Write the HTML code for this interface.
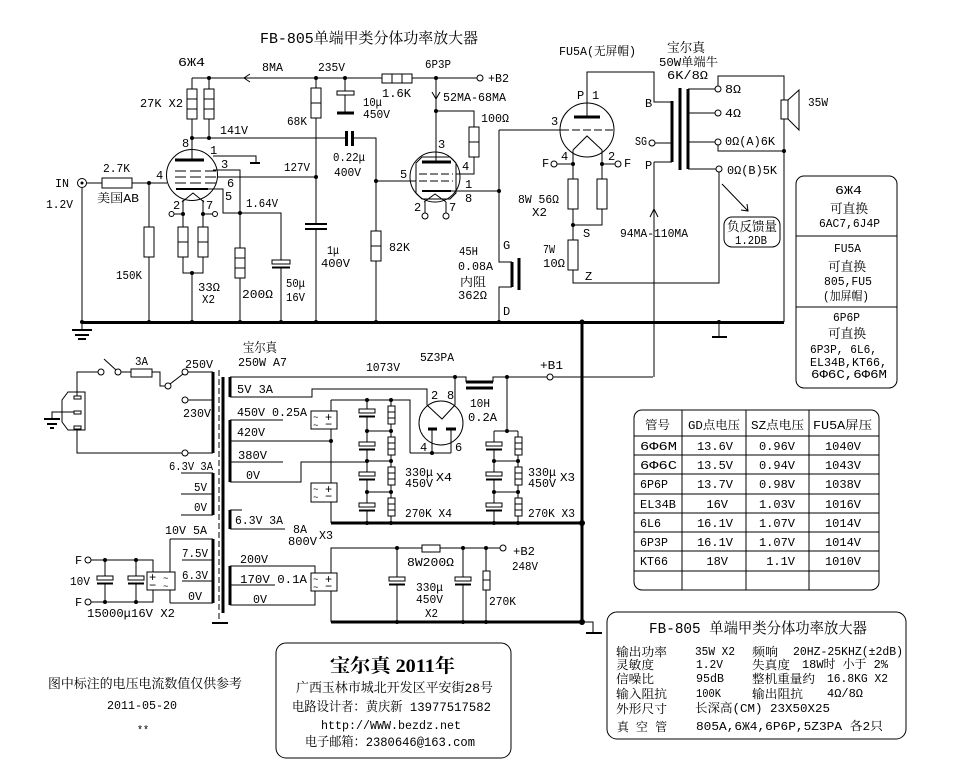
<!DOCTYPE html>
<html><head><meta charset="utf-8">
<style>
html,body{margin:0;padding:0;background:#fff;}
svg{display:block;}
text{font-family:"Liberation Mono","Noto Serif CJK SC",monospace;font-size:12px;fill:#000;stroke:none;}
.s{font-family:"Liberation Serif","Noto Serif CJK SC",serif;}
</style></head><body>
<svg width="966" height="775" viewBox="0 0 966 775" xmlns="http://www.w3.org/2000/svg">
<rect width="966" height="775" fill="#fff"/>
<g fill="none" stroke="#000" stroke-width="1">
<!-- ===== Tube 1 section ===== -->
<path d="M192 78H382M412 78H477"/>
<path d="M250 74L244 78L250 82"/>
<path d="M192 78V89M192 119V160M209 78V89M209 119V138"/>
<rect x="187" y="89" width="10" height="30"/><path d="M187 99H197M187 109H197"/>
<rect x="204" y="89" width="10" height="30"/><path d="M204 99H214M204 109H214"/>
<path d="M192 138H346"/>
<path d="M346.5 131V146M352.5 131V146" stroke-width="3"/>
<path d="M353 138H376V231M376 261V322"/>
<rect x="371" y="231" width="10" height="30"/><path d="M371 246H381"/>
<path d="M316 78V88M316 118V224M316 229V322"/>
<rect x="311" y="88" width="10" height="30"/><path d="M311 103H321"/>
<path d="M305 224H327M305 229H327" stroke-width="2"/>
<circle cx="192" cy="175" r="25.5"/>
<path d="M175 160H204" stroke-width="3"/>
<path d="M175 171H217M175 177H217M175 183H216" stroke-dasharray="11,4"/>
<path d="M176 189H208" stroke-width="2"/>
<path d="M213 156H256V163"/><path d="M250 163H260" stroke-width="2"/>
<path d="M213 170H240V248M240 278V322"/>
<rect x="235" y="248" width="10" height="30"/><path d="M235 258H245M235 268H245"/>
<path d="M217 177H316"/>
<path d="M208 189H223V213H281V260M281 267V322"/>
<rect x="272" y="260" width="18" height="4"/><path d="M272 267.5H290" stroke-width="2"/>
<path d="M182 202L193 193L204 202"/>
<path d="M183 200V227M203 200V227M174 214H183M203 214H212"/>
<circle cx="171.5" cy="214" r="2.5"/><circle cx="215" cy="214" r="2.5"/>
<rect x="178" y="227" width="10" height="30"/><path d="M178 242H188"/>
<rect x="198" y="227" width="10" height="30"/><path d="M198 242H208"/>
<path d="M183 257V273H203V257M192 273V322"/>
<circle cx="82" cy="183" r="4.5"/>
<path d="M87 183H102M132 183H167M149 183V227M149 257V322M82 188V330"/>
<rect x="102" y="178" width="30" height="10"/>
<rect x="144" y="227" width="10" height="30"/>
<path d="M72 330H92M75 335H89M78 339H86" stroke-width="2"/>
<path d="M82 322.5H784" stroke-width="3"/>
<!-- ===== Tube 2 section ===== -->
<path d="M345 78V91M345 95V113"/>
<rect x="337" y="91" width="17" height="4"/>
<path d="M337 113H354" stroke-width="3"/>
<rect x="382" y="74" width="30" height="9"/><path d="M392 74V83M402 74V83"/>
<circle cx="480" cy="78" r="3"/>
<path d="M436 78V162M436 111H474V127M474 157V174H456"/>
<path d="M432 92L436 99L440 92"/>
<rect x="469" y="127" width="10" height="30"/><path d="M469 142H479"/>
<circle cx="435" cy="177" r="25"/>
<path d="M422 157H450L456 163V193L450 199H422L416 193V163Z"/>
<path d="M422 162H451" stroke-width="3"/>
<path d="M419 174H453M419 181H453" stroke-dasharray="8,3"/>
<path d="M422 191H451" stroke-width="2"/>
<path d="M451 191H499"/>
<path d="M376 181H416"/>
<path d="M424 202L435 194L446 202M425 202V213M446 202V213"/>
<circle cx="425" cy="216" r="3"/><circle cx="446" cy="216" r="3"/>
<path d="M499 130V262H512M512 287H499V322M499 130H561"/>
<path d="M512 262V287M519 258V290" stroke-width="3"/>
<!-- ===== FU5A ===== -->
<circle cx="587" cy="130" r="27"/>
<path d="M587 117V72H654V102H672"/>
<path d="M574 117H600" stroke-width="3"/>
<path d="M561 130H613" stroke-dasharray="8,3"/>
<path d="M573 150L587 136L602 150M573 150V179M602 150V179M557 164H573M602 164H615"/>
<circle cx="554" cy="164" r="3"/><circle cx="618" cy="164" r="3"/>
<rect x="568" y="179" width="10" height="30"/><rect x="597" y="179" width="10" height="30"/>
<path d="M573 209V240M602 209V225H573"/>
<rect x="568" y="240" width="10" height="30"/>
<path d="M573 270V283H719V172"/>
<!-- ===== Output transformer ===== -->
<path d="M672 101V162M680 88V170M688 89V169" stroke-width="3"/>
<circle cx="652" cy="143" r="3"/>
<path d="M655 143H672M654 162H672M654 162V377"/>
<path d="M650 217L654 209L658 217"/>
<path d="M688 89H715M688 113H715M688 142H715M688 169H716"/>
<circle cx="718" cy="89" r="3"/><circle cx="718" cy="113" r="3"/><circle cx="718" cy="142" r="3"/><circle cx="719" cy="169" r="3"/>
<path d="M718 86V76H784V100M784 119V322M718 145V151H784"/>
<rect x="781" y="100" width="7" height="19"/>
<path d="M788 100L799 90V130L788 119"/>
<path d="M722 184L748 211M741 210L748 211L747 204"/>
<rect x="724" y="217" width="56" height="30" rx="8"/>
<path d="M719 322V337"/><path d="M712 337H727" stroke-width="2"/>
<rect x="796" y="176" width="101" height="212" rx="8"/>
<path d="M796 236H897M796 307H897"/>
<!-- ===== Power section ===== -->
<path d="M68 392H85V430H68L62 422V400Z"/>
<rect x="74" y="396" width="7" height="3"/><rect x="74" y="411" width="7" height="3"/><rect x="74" y="426" width="7" height="3"/>
<path d="M77 396V372H98M121 372H131M152 372H160V386H165M77 429V453H182M74 412H52V419"/>
<path d="M44 419H60M47 424H57M50 428H54" stroke-width="2"/>
<circle cx="101" cy="372" r="3"/><circle cx="118" cy="372" r="3"/><circle cx="168" cy="386" r="3"/>
<circle cx="185" cy="372" r="3"/><circle cx="185" cy="400" r="3"/><circle cx="185" cy="453" r="3"/>
<path d="M104 359L116 370M170 384L183 374"/>
<rect x="131" y="369" width="21" height="8"/>
<path d="M188 372H213M188 400H213M188 453H213"/>
<path d="M213 372V453" stroke-width="3"/>
<path d="M219 370V623" stroke-dasharray="6,3"/>
<path d="M223 377V613" stroke-width="3"/>
<path d="M212 623H228" stroke-width="2"/>
<path d="M213 473V515M213 539V603" stroke-width="3"/>
<path d="M181 473H213M181 494H213M181 515H213M170 539H213M182 560H213M182 581H213M170 603H213M170 539V572M170 590V603"/>
<rect x="147" y="572" width="28" height="18"/>
<path d="M153 572V560H91M153 590V602H91"/>
<circle cx="88" cy="560" r="3"/><circle cx="88" cy="602" r="3"/>
<path d="M105 560V576M105 583V602M136 560V576M136 583V602"/>
<rect x="97" y="576" width="16" height="4"/><rect x="128" y="576" width="16" height="4"/>
<path d="M97 583.5H113M128 583.5H144" stroke-width="2"/>
<path d="M230 377V397M230 420V482M230 510V529M230 566V605" stroke-width="3"/>
<path d="M230 377H466V382M493 382V377H653"/>
<path d="M466 382H493M466 388H493" stroke-width="3"/>
<path d="M230 397H312V389H427V405M455 377V405"/>
<path d="M427 405L442 419L455 405"/>
<circle cx="441" cy="423" r="22"/>
<path d="M428 429H437M446 429H456" stroke-width="3"/>
<path d="M432 429V453M451 429V453M410 453H451M331 400H410V453"/>
<path d="M230 420H283M230 441H331M230 462H283M230 482H301V462H367M230 510H242M230 529H285"/>
<path d="M331 400V411M331 429V483M331 502V523"/>
<rect x="311" y="411" width="26" height="18"/>
<rect x="311" y="483" width="26" height="19"/>
<path d="M230 566H315V573M230 585H275M230 605H315V591M331 573V548H422M440 548H500M331 591V622"/>
<rect x="311" y="573" width="26" height="18"/>
<rect x="422" y="545" width="18" height="7"/>
<circle cx="503" cy="548" r="3"/>
<path d="M397 548V577M397 585V622M463 548V577M463 585V622M486 548V571M486 590V622"/>
<rect x="389" y="577" width="16" height="4"/><rect x="455" y="577" width="16" height="4"/>
<path d="M389 584.5H405M455 584.5H471" stroke-width="2"/>
<rect x="483" y="571" width="7" height="19"/><path d="M483 580H490"/>
<path d="M331 523H582M331 622H582" stroke-width="3"/>
<path d="M582 322V622" stroke-width="3"/>
<path d="M582 622H593V633"/><path d="M586 633H602" stroke-width="2"/>
<!-- left stack -->
<path d="M367 400V409M367 416V442M367 449V472M367 479V503M367 510V523"/>
<rect x="359" y="409" width="16" height="4"/><rect x="359" y="442" width="16" height="4"/><rect x="359" y="472" width="16" height="4"/><rect x="359" y="503" width="16" height="4"/>
<path d="M359 416.5H375M359 449.5H375M359 479.5H375M359 510.5H375" stroke-width="2"/>
<path d="M391 400V406M391 424V437M391 455V467M391 485V498M391 516V523"/>
<rect x="388" y="406" width="7" height="18"/><rect x="388" y="437" width="7" height="18"/><rect x="388" y="467" width="7" height="18"/><rect x="388" y="498" width="7" height="18"/>
<path d="M388 412H395M388 418H395M388 443H395M388 449H395M388 473H395M388 479H395M388 504H395M388 510H395"/>
<path d="M367 431H391M367 461H391M367 492H391"/>
<!-- right stack -->
<path d="M507 377V431M494 431H518"/>
<path d="M494 431V442M494 449V472M494 479V503M494 510V523"/>
<rect x="486" y="442" width="16" height="4"/><rect x="486" y="472" width="16" height="4"/><rect x="486" y="503" width="16" height="4"/>
<path d="M486 449.5H502M486 479.5H502M486 510.5H502" stroke-width="2"/>
<path d="M518 431V437M518 455V467M518 485V498M518 516V523"/>
<rect x="515" y="437" width="7" height="18"/><rect x="515" y="467" width="7" height="18"/><rect x="515" y="498" width="7" height="18"/>
<path d="M515 443H522M515 449H522M515 473H522M515 479H522M515 504H522M515 510H522"/>
<path d="M494 461H518M494 492H518"/>
<!-- table -->
<rect x="634" y="410" width="245" height="180" rx="8"/>
<path d="M682 410V590M746 410V590M809 410V590M634 436H879M634 455H879M634 474H879M634 494H879M634 513H879M634 532H879M634 551H879M634 571H879"/>
<!-- boxes -->
<rect x="276" y="643" width="235" height="115" rx="10"/>
<rect x="607" y="612" width="299" height="127" rx="10"/>
</g>
<circle cx="550" cy="377" r="3" fill="#fff" stroke="#000"/>
<g fill="#000">
<circle cx="82" cy="183" r="1.5"/>
<circle cx="209" cy="78" r="2"/><circle cx="316" cy="78" r="2"/><circle cx="345" cy="78" r="2"/><circle cx="436" cy="78" r="2"/>
<circle cx="192" cy="138" r="2"/><circle cx="209" cy="138" r="2"/><circle cx="149" cy="183" r="2"/><circle cx="316" cy="177" r="2"/>
<circle cx="240" cy="213" r="2"/><circle cx="183" cy="214" r="2"/><circle cx="203" cy="214" r="2"/><circle cx="192" cy="273" r="2"/>
<circle cx="436" cy="111" r="2"/><circle cx="376" cy="181" r="2"/><circle cx="499" cy="191" r="2"/>
<circle cx="573" cy="164" r="2"/><circle cx="602" cy="164" r="2"/><circle cx="573" cy="225" r="2"/><circle cx="784" cy="151" r="2"/>
<circle cx="82" cy="322" r="2"/><circle cx="149" cy="322" r="2"/><circle cx="192" cy="322" r="2"/><circle cx="240" cy="322" r="2"/><circle cx="281" cy="322" r="2"/><circle cx="316" cy="322" r="2"/><circle cx="376" cy="322" r="2"/><circle cx="499" cy="322" r="2"/><circle cx="582" cy="322" r="2.5"/><circle cx="719" cy="322" r="2"/>
<circle cx="105" cy="560" r="2"/><circle cx="136" cy="560" r="2"/><circle cx="105" cy="602" r="2"/><circle cx="136" cy="602" r="2"/>
<circle cx="331" cy="441" r="2"/><circle cx="455" cy="377" r="2"/><circle cx="507" cy="377" r="2"/>
<circle cx="367" cy="400" r="2"/><circle cx="391" cy="400" r="2"/><circle cx="367" cy="431" r="2"/><circle cx="391" cy="431" r="2"/><circle cx="367" cy="461" r="2"/><circle cx="391" cy="461" r="2"/><circle cx="367" cy="492" r="2"/><circle cx="391" cy="492" r="2"/><circle cx="367" cy="523" r="2"/><circle cx="391" cy="523" r="2"/>
<circle cx="432" cy="453" r="2"/><circle cx="507" cy="431" r="2"/>
<circle cx="494" cy="461" r="2"/><circle cx="518" cy="461" r="2"/><circle cx="494" cy="492" r="2"/><circle cx="518" cy="492" r="2"/><circle cx="494" cy="523" r="2"/><circle cx="518" cy="523" r="2"/>
<circle cx="582" cy="523" r="3"/><circle cx="397" cy="548" r="2"/><circle cx="463" cy="548" r="2"/><circle cx="486" cy="548" r="2"/>
<circle cx="397" cy="622" r="2"/><circle cx="463" cy="622" r="2"/><circle cx="486" cy="622" r="2"/><circle cx="582" cy="622" r="3"/>
</g>
<!-- bridge symbols -->
<g font-size="9">
<text x="313" y="420" style="font-size:9px">~</text><text x="313" y="428" style="font-size:9px">~</text><text x="325" y="421">+</text><text x="325" y="428">−</text>
<text x="313" y="492" style="font-size:9px">~</text><text x="313" y="500" style="font-size:9px">~</text><text x="325" y="493">+</text><text x="325" y="500">−</text>
<text x="313" y="582" style="font-size:9px">~</text><text x="313" y="590" style="font-size:9px">~</text><text x="325" y="583">+</text><text x="325" y="590">−</text>
<text x="149" y="581">+</text><text x="149" y="589">−</text><text x="163" y="581" style="font-size:9px">~</text><text x="163" y="589" style="font-size:9px">~</text>
</g>
<!-- labels -->
<text x="260" y="43" style="font-size:15px" textLength="218" lengthAdjust="spacingAndGlyphs">FB-805单端甲类分体功率放大器</text>
<text x="178" y="66" textLength="27" lengthAdjust="spacingAndGlyphs">6Ж4</text>
<text x="262" y="71" textLength="21" lengthAdjust="spacingAndGlyphs">8MA</text>
<text x="318" y="71" textLength="27" lengthAdjust="spacingAndGlyphs">235V</text>
<text x="425" y="68" textLength="26" lengthAdjust="spacingAndGlyphs">6P3P</text>
<text x="488" y="82" textLength="21" lengthAdjust="spacingAndGlyphs">+B2</text>
<text x="363" y="106" textLength="19" lengthAdjust="spacingAndGlyphs">10μ</text>
<text x="363" y="118" textLength="27" lengthAdjust="spacingAndGlyphs">450V</text>
<text x="382" y="97" textLength="29" lengthAdjust="spacingAndGlyphs">1.6K</text>
<text x="443" y="101" textLength="63" lengthAdjust="spacingAndGlyphs">52MA-68MA</text>
<text x="481" y="122" textLength="28" lengthAdjust="spacingAndGlyphs">100Ω</text>
<text x="140" y="107" textLength="43" lengthAdjust="spacingAndGlyphs">27K X2</text>
<text x="220" y="134" textLength="28" lengthAdjust="spacingAndGlyphs">141V</text>
<text x="287" y="125" textLength="20" lengthAdjust="spacingAndGlyphs">68K</text>
<text x="333" y="161" textLength="32" lengthAdjust="spacingAndGlyphs">0.22μ</text>
<text x="334" y="176" textLength="27" lengthAdjust="spacingAndGlyphs">400V</text>
<text x="182" y="147">8</text><text x="210" y="154">1</text><text x="221" y="168">3</text>
<text x="284" y="171" textLength="26" lengthAdjust="spacingAndGlyphs">127V</text>
<text x="156" y="179">4</text><text x="227" y="187">6</text><text x="225" y="200">5</text>
<text x="173" y="209">2</text><text x="206" y="209">7</text>
<text x="246" y="207" textLength="32" lengthAdjust="spacingAndGlyphs">1.64V</text>
<text x="55" y="187" textLength="14" lengthAdjust="spacingAndGlyphs">IN</text>
<text x="46" y="208" textLength="27" lengthAdjust="spacingAndGlyphs">1.2V</text>
<text x="103" y="172" textLength="27" lengthAdjust="spacingAndGlyphs">2.7K</text>
<text x="97" y="202" textLength="42" lengthAdjust="spacingAndGlyphs">美国AB</text>
<text x="116" y="279" textLength="26" lengthAdjust="spacingAndGlyphs">150K</text>
<text x="198" y="291" textLength="22" lengthAdjust="spacingAndGlyphs">33Ω</text>
<text x="202" y="303" textLength="13" lengthAdjust="spacingAndGlyphs">X2</text>
<text x="242" y="298" textLength="31" lengthAdjust="spacingAndGlyphs">200Ω</text>
<text x="286" y="287" textLength="19" lengthAdjust="spacingAndGlyphs">50μ</text>
<text x="286" y="301" textLength="19" lengthAdjust="spacingAndGlyphs">16V</text>
<text x="327" y="254" textLength="12" lengthAdjust="spacingAndGlyphs">1μ</text>
<text x="321" y="267" textLength="29" lengthAdjust="spacingAndGlyphs">400V</text>
<text x="389" y="251" textLength="21" lengthAdjust="spacingAndGlyphs">82K</text>
<text x="438" y="148">3</text><text x="462" y="170">4</text><text x="400" y="178">5</text>
<text x="465" y="188">1</text><text x="465" y="202">8</text><text x="414" y="211">2</text><text x="449" y="211">7</text>
<text x="459" y="255" textLength="19" lengthAdjust="spacingAndGlyphs">45H</text>
<text x="458" y="270" textLength="35" lengthAdjust="spacingAndGlyphs">0.08A</text>
<text x="460" y="286" textLength="26" lengthAdjust="spacingAndGlyphs">内阻</text>
<text x="458" y="299" textLength="29" lengthAdjust="spacingAndGlyphs">362Ω</text>
<text x="503" y="249">G</text><text x="503" y="315">D</text>
<text x="559" y="55" textLength="77" lengthAdjust="spacingAndGlyphs">FU5A(无屏帽)</text>
<text x="577" y="99">P</text><text x="592" y="99">1</text><text x="551" y="125">3</text>
<text x="561" y="160">4</text><text x="608" y="160">2</text>
<text x="542" y="167">F</text><text x="624" y="167">F</text>
<text x="518" y="203" textLength="41" lengthAdjust="spacingAndGlyphs">8W 56Ω</text>
<text x="532" y="216" textLength="15" lengthAdjust="spacingAndGlyphs">X2</text>
<text x="583" y="237">S</text>
<text x="543" y="253" textLength="12" lengthAdjust="spacingAndGlyphs">7W</text>
<text x="543" y="267" textLength="22" lengthAdjust="spacingAndGlyphs">10Ω</text>
<text x="585" y="280">Z</text>
<text x="620" y="237" textLength="68" lengthAdjust="spacingAndGlyphs">94MA-110MA</text>
<text x="645" y="107">B</text>
<text x="635" y="145" textLength="12" lengthAdjust="spacingAndGlyphs">SG</text>
<text x="645" y="169">P</text>
<text x="667" y="52" style="font-size:13px" textLength="38" lengthAdjust="spacingAndGlyphs">宝尔真</text>
<text x="659" y="66" textLength="59" lengthAdjust="spacingAndGlyphs">50W单端牛</text>
<text x="667" y="79" textLength="41" lengthAdjust="spacingAndGlyphs">6K/8Ω</text>
<text x="725" y="93" textLength="16" lengthAdjust="spacingAndGlyphs">8Ω</text>
<text x="725" y="117" textLength="16" lengthAdjust="spacingAndGlyphs">4Ω</text>
<text x="725" y="145" textLength="50" lengthAdjust="spacingAndGlyphs">0Ω(A)6K</text>
<text x="727" y="174" textLength="50" lengthAdjust="spacingAndGlyphs">0Ω(B)5K</text>
<text x="808" y="106" textLength="20" lengthAdjust="spacingAndGlyphs">35W</text>
<text x="727" y="231" style="font-size:13px" textLength="50" lengthAdjust="spacingAndGlyphs">负反馈量</text>
<text x="735" y="244" textLength="32" lengthAdjust="spacingAndGlyphs">1.2DB</text>
<text x="835" y="194" textLength="27" lengthAdjust="spacingAndGlyphs">6Ж4</text>
<text x="830" y="213" style="font-size:13px" textLength="38" lengthAdjust="spacingAndGlyphs">可直换</text>
<text x="819" y="227" textLength="61" lengthAdjust="spacingAndGlyphs">6AC7,6J4P</text>
<text x="834" y="252" textLength="27" lengthAdjust="spacingAndGlyphs">FU5A</text>
<text x="828" y="271" style="font-size:13px" textLength="38" lengthAdjust="spacingAndGlyphs">可直换</text>
<text x="824" y="285" textLength="48" lengthAdjust="spacingAndGlyphs">805,FU5</text>
<text x="823" y="300" textLength="46" lengthAdjust="spacingAndGlyphs">(加屏帽)</text>
<text x="833" y="321" textLength="27" lengthAdjust="spacingAndGlyphs">6P6P</text>
<text x="828" y="338" style="font-size:13px" textLength="38" lengthAdjust="spacingAndGlyphs">可直换</text>
<text x="810" y="353" textLength="67" lengthAdjust="spacingAndGlyphs">6P3P, 6L6,</text>
<text x="810" y="366" textLength="77" lengthAdjust="spacingAndGlyphs">EL34B,KT66,</text>
<text x="811" y="378" textLength="76" lengthAdjust="spacingAndGlyphs">6Φ6C,6Φ6M</text>
<!-- power labels -->
<text x="135" y="365" textLength="13" lengthAdjust="spacingAndGlyphs">3A</text>
<text x="185" y="368" textLength="28" lengthAdjust="spacingAndGlyphs">250V</text>
<text x="243" y="352" style="font-size:13px" textLength="34" lengthAdjust="spacingAndGlyphs">宝尔真</text>
<text x="238" y="366" textLength="49" lengthAdjust="spacingAndGlyphs">250W A7</text>
<text x="183" y="417" textLength="28" lengthAdjust="spacingAndGlyphs">230V</text>
<text x="169" y="470" textLength="44" lengthAdjust="spacingAndGlyphs">6.3V 3A</text>
<text x="194" y="491" textLength="13" lengthAdjust="spacingAndGlyphs">5V</text>
<text x="194" y="511" textLength="13" lengthAdjust="spacingAndGlyphs">0V</text>
<text x="165" y="534" textLength="42" lengthAdjust="spacingAndGlyphs">10V 5A</text>
<text x="182" y="557" textLength="26" lengthAdjust="spacingAndGlyphs">7.5V</text>
<text x="182" y="579" textLength="26" lengthAdjust="spacingAndGlyphs">6.3V</text>
<text x="188" y="600" textLength="14" lengthAdjust="spacingAndGlyphs">0V</text>
<text x="75" y="564">F</text><text x="75" y="606">F</text>
<text x="70" y="585" textLength="20" lengthAdjust="spacingAndGlyphs">10V</text>
<text x="87" y="617" textLength="88" lengthAdjust="spacingAndGlyphs">15000μ16V X2</text>
<text x="237" y="393" textLength="36" lengthAdjust="spacingAndGlyphs">5V 3A</text>
<text x="237" y="416" textLength="70" lengthAdjust="spacingAndGlyphs">450V 0.25A</text>
<text x="237" y="436" textLength="28" lengthAdjust="spacingAndGlyphs">420V</text>
<text x="238" y="459" textLength="29" lengthAdjust="spacingAndGlyphs">380V</text>
<text x="246" y="479" textLength="14" lengthAdjust="spacingAndGlyphs">0V</text>
<text x="235" y="524" textLength="48" lengthAdjust="spacingAndGlyphs">6.3V 3A</text>
<text x="293" y="533" textLength="14" lengthAdjust="spacingAndGlyphs">8A</text>
<text x="288" y="545" textLength="29" lengthAdjust="spacingAndGlyphs">800V</text>
<text x="319" y="539" textLength="14" lengthAdjust="spacingAndGlyphs">X3</text>
<text x="240" y="563" textLength="28" lengthAdjust="spacingAndGlyphs">200V</text>
<text x="240" y="583" textLength="67" lengthAdjust="spacingAndGlyphs">170V 0.1A</text>
<text x="253" y="603" textLength="14" lengthAdjust="spacingAndGlyphs">0V</text>
<text x="366" y="371" textLength="34" lengthAdjust="spacingAndGlyphs">1073V</text>
<text x="420" y="361" textLength="34" lengthAdjust="spacingAndGlyphs">5Z3PA</text>
<text x="540" y="369" textLength="23" lengthAdjust="spacingAndGlyphs">+B1</text>
<text x="431" y="399">2</text><text x="447" y="399">8</text>
<text x="470" y="407" textLength="20" lengthAdjust="spacingAndGlyphs">10H</text>
<text x="468" y="421" textLength="29" lengthAdjust="spacingAndGlyphs">0.2A</text>
<text x="420" y="451">4</text><text x="455" y="451">6</text>
<text x="405" y="476" textLength="28" lengthAdjust="spacingAndGlyphs">330μ</text>
<text x="405" y="487" textLength="28" lengthAdjust="spacingAndGlyphs">450V</text>
<text x="436" y="481" textLength="16" lengthAdjust="spacingAndGlyphs">X4</text>
<text x="405" y="517" textLength="47" lengthAdjust="spacingAndGlyphs">270K X4</text>
<text x="528" y="476" textLength="28" lengthAdjust="spacingAndGlyphs">330μ</text>
<text x="528" y="487" textLength="28" lengthAdjust="spacingAndGlyphs">450V</text>
<text x="560" y="481" textLength="15" lengthAdjust="spacingAndGlyphs">X3</text>
<text x="528" y="517" textLength="47" lengthAdjust="spacingAndGlyphs">270K X3</text>
<text x="407" y="566" textLength="47" lengthAdjust="spacingAndGlyphs">8W200Ω</text>
<text x="416" y="591" textLength="27" lengthAdjust="spacingAndGlyphs">330μ</text>
<text x="416" y="603" textLength="27" lengthAdjust="spacingAndGlyphs">450V</text>
<text x="425" y="617" textLength="13" lengthAdjust="spacingAndGlyphs">X2</text>
<text x="489" y="605" textLength="27" lengthAdjust="spacingAndGlyphs">270K</text>
<text x="513" y="555" textLength="22" lengthAdjust="spacingAndGlyphs">+B2</text>
<text x="512" y="570" textLength="26" lengthAdjust="spacingAndGlyphs">248V</text>
<!-- table -->
<g style="font-size:13px">
<text x="645" y="429" textLength="25" lengthAdjust="spacingAndGlyphs">管号</text>
<text x="688" y="429" textLength="52" lengthAdjust="spacingAndGlyphs">GD点电压</text>
<text x="751" y="429" textLength="53" lengthAdjust="spacingAndGlyphs">SZ点电压</text>
<text x="813" y="429" textLength="59" lengthAdjust="spacingAndGlyphs">FU5A屏压</text>
</g>
<text x="640" y="450" textLength="37" lengthAdjust="spacingAndGlyphs">6Φ6M</text>
<text x="640" y="469" textLength="37" lengthAdjust="spacingAndGlyphs">6Φ6C</text>
<text x="640" y="488" textLength="28" lengthAdjust="spacingAndGlyphs">6P6P</text>
<text x="640" y="508" textLength="36" lengthAdjust="spacingAndGlyphs">EL34B</text>
<text x="640" y="527" textLength="21" lengthAdjust="spacingAndGlyphs">6L6</text>
<text x="640" y="546" textLength="28" lengthAdjust="spacingAndGlyphs">6P3P</text>
<text x="640" y="565" textLength="28" lengthAdjust="spacingAndGlyphs">KT66</text>
<g text-anchor="end">
<text x="733" y="450">13.6V</text><text x="733" y="469">13.5V</text><text x="733" y="488">13.7V</text><text x="728" y="508">16V</text><text x="733" y="527">16.1V</text><text x="733" y="546">16.1V</text><text x="728" y="565">18V</text>
<text x="795" y="450">0.96V</text><text x="795" y="469">0.94V</text><text x="795" y="488">0.98V</text><text x="795" y="508">1.03V</text><text x="795" y="527">1.07V</text><text x="795" y="546">1.07V</text><text x="795" y="565">1.1V</text>
</g>
<g text-anchor="middle">
<text x="843" y="450">1040V</text><text x="843" y="469">1043V</text><text x="843" y="488">1038V</text><text x="843" y="508">1016V</text><text x="843" y="527">1014V</text><text x="843" y="546">1014V</text><text x="843" y="565">1010V</text>
</g>
<!-- bottom notes -->
<text x="48" y="688" style="font-size:13px" textLength="194" lengthAdjust="spacingAndGlyphs">图中标注的电压电流数值仅供参考</text>
<text x="107" y="709" textLength="70" lengthAdjust="spacingAndGlyphs">2011-05-20</text>
<text x="137" y="734" textLength="12" lengthAdjust="spacingAndGlyphs">**</text>
<text class="s" x="330" y="672" style="font-size:19px;font-weight:bold" textLength="125" lengthAdjust="spacingAndGlyphs">宝尔真 2011年</text>
<text x="296" y="692" style="font-size:13px" textLength="197" lengthAdjust="spacingAndGlyphs">广西玉林市城北开发区平安街28号</text>
<text x="292" y="711" style="font-size:13px" textLength="199" lengthAdjust="spacingAndGlyphs">电路设计者：黄庆新 13977517582</text>
<text x="321" y="729" textLength="140" lengthAdjust="spacingAndGlyphs">http://WWW.bezdz.net</text>
<text x="305" y="746" style="font-size:13px" textLength="170" lengthAdjust="spacingAndGlyphs">电子邮箱：2380646@163.com</text>
<!-- spec box -->
<text x="649" y="633" style="font-size:15px" textLength="218" lengthAdjust="spacingAndGlyphs">FB-805 单端甲类分体功率放大器</text>
<g style="font-size:13px">
<text x="616" y="656" textLength="51" lengthAdjust="spacingAndGlyphs">输出功率</text>
<text x="616" y="669" textLength="38" lengthAdjust="spacingAndGlyphs">灵敏度</text>
<text x="616" y="683" textLength="38" lengthAdjust="spacingAndGlyphs">信噪比</text>
<text x="616" y="698" textLength="51" lengthAdjust="spacingAndGlyphs">输入阻抗</text>
<text x="616" y="713" textLength="51" lengthAdjust="spacingAndGlyphs">外形尺寸</text>
<text x="617" y="731" textLength="50" lengthAdjust="spacingAndGlyphs">真 空 管</text>
<text x="752" y="656" textLength="26" lengthAdjust="spacingAndGlyphs">频响</text>
<text x="752" y="669" textLength="38" lengthAdjust="spacingAndGlyphs">失真度</text>
<text x="752" y="683" textLength="63" lengthAdjust="spacingAndGlyphs">整机重量约</text>
<text x="752" y="698" textLength="51" lengthAdjust="spacingAndGlyphs">输出阻抗</text>
</g>
<text x="695" y="655" textLength="40" lengthAdjust="spacingAndGlyphs">35W X2</text>
<text x="793" y="655" textLength="110" lengthAdjust="spacingAndGlyphs">20HZ-25KHZ(±2dB)</text>
<text x="696" y="668" textLength="27" lengthAdjust="spacingAndGlyphs">1.2V</text>
<text x="802" y="668" textLength="86" lengthAdjust="spacingAndGlyphs">18W时 小于 2%</text>
<text x="696" y="682" textLength="28" lengthAdjust="spacingAndGlyphs">95dB</text>
<text x="827" y="682" textLength="61" lengthAdjust="spacingAndGlyphs">16.8KG X2</text>
<text x="696" y="697" textLength="25" lengthAdjust="spacingAndGlyphs">100K</text>
<text x="827" y="697" textLength="36" lengthAdjust="spacingAndGlyphs">4Ω/8Ω</text>
<text x="695" y="712" textLength="135" lengthAdjust="spacingAndGlyphs">长深高(CM) 23X50X25</text>
<text x="696" y="730" textLength="187" lengthAdjust="spacingAndGlyphs">805A,6Ж4,6P6P,5Z3PA  各2只</text>
</svg>
</body></html>
